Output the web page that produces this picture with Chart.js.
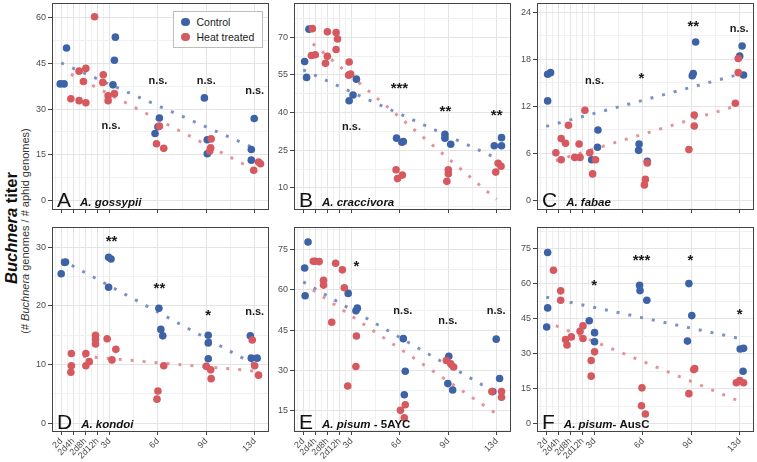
<!DOCTYPE html>
<html>
<head>
<meta charset="utf-8">
<title>Buchnera titer</title>
<script src="https://cdn.jsdelivr.net/npm/chart.js@4.4.1/dist/chart.umd.min.js"></script>
<style>
  html, body { margin: 0; padding: 0; background: #fff; overflow: hidden; }
  body { position: relative; width: 757px; height: 462px; font-family: "Liberation Sans", Arial, sans-serif; }
  .panel { position: absolute; }
  .panel canvas { display: block; }
  #ytitle, #ysub { position: absolute; white-space: nowrap; transform: translate(-50%, -50%) rotate(-90deg); }
  #ytitle { left: 11px; top: 228px; font-size: 16.5px; font-weight: bold; color: #111; }
  #ysub { left: 25px; top: 231px; font-size: 11px; color: #333; }
  #legend { position: absolute; left: 173px; top: 11px; width: 88px; height: 35px; border: 1px solid #bdbdbd; background: #fff; font-size: 10.5px; color: #1a1a1a; z-index: 5; white-space: nowrap; }
  .item { position: absolute; left: 7px; height: 14px; display: flex; align-items: center; }
  .dot { width: 8.5px; height: 8.5px; border-radius: 50%; margin-right: 7px; }
</style>
</head>
<body>
<div id="ytitle"><i>Buchnera</i> titer</div>
<div id="ysub">(# <i>Buchnera</i> genomes / # aphid genomes)</div>
<div id="legend">
  <div class="item" style="top:3px"><span class="dot" style="background:#3D63A6"></span>Control</div>
  <div class="item" style="top:18px"><span class="dot" style="background:#D5595F"></span>Heat treated</div>
</div>

<script>
// x axis: sampling times (2d .. 3d squeezed, then one unit per step)
const timePos = [0, 0.25, 0.5, 0.75, 1, 2, 3, 4];
const timeLabels = ["2d", "2d4h", "2d8h", "2d12h", "3d", "6d", "9d", "13d"];

// panel names
const letters = ["A", "B", "C", "D", "E", "F"];
const species = ["A. gossypii", "A. craccivora", "A. fabae", "A. kondoi", "A. pisum", "A. pisum"];
const strain = ["", "", "", "", " - 5AYC", "- AusC"];

// y axis ticks + limits for each panel
const yTicksA = [0, 15, 30, 45, 60];
const yTicksB = [10, 25, 40, 55, 70];
const yTicksC = [0, 6, 12, 18, 24];
const yTicksD = [0, 10, 20, 30];
const yTicksE = [15, 30, 45, 60, 75];
const yTicksF = [0, 15, 30, 45, 60, 75];
const yMin = [-3.2, 1.2, -1.2, -1.5, 6.9, -3.5];
const yMax = [65, 83.7, 25.2, 33.5, 83.6, 84.3];

// A. gossypii
const aCtrlX = [-0.02, 0.06, 0.11, 1.12, 1.10, 1.07, 2.03, 2.0, 1.94, 2.96, 3.02, 3.02, 3.99, 3.93, 3.93];
const aCtrlY = [38.3, 38.3, 50.1, 53.7, 46.1, 38.0, 27.1, 24.2, 22.0, 33.7, 19.9, 15.3, 26.9, 16.7, 13.2];
const aHeatX = [0.2, 0.37, 0.37, 0.46, 0.51, 0.51, 0.69, 0.87, 0.86, 0.97, 0.97, 1.1, 2.03, 1.97, 2.12, 3.1, 3.09, 3.07, 4.08, 3.98, 4.12];
const aHeatY = [33.4, 32.8, 42.5, 39.1, 43.4, 32.1, 60.4, 41.3, 38.8, 34.4, 32.8, 35.1, 24.4, 18.6, 17.1, 20.2, 17.3, 16.2, 12.6, 9.9, 12.0];
const aCtrlFit = [45.2, 17.1];
const aHeatFit = [41.5, 10.0];
const aSig = ["n.s.", "n.s.", "n.s.", "n.s."];
const aSigX = [1.03, 2.0, 3.0, 4.0];
const aSigY = [24.3, 39.4, 39.4, 35.9];

// A. craccivora
const bCtrlX = [0.03, 0.07, 0.12, 0.95, 1.03, 1.1, 1.93, 2.04, 2.07, 2.93, 2.93, 3.05, 3.95, 4.1, 4.1];
const bCtrlY = [60.3, 54.0, 73.2, 44.7, 47.0, 53.3, 29.8, 28.2, 28.5, 31.3, 29.8, 27.4, 26.8, 26.8, 30.0];
const bHeatX = [0.19, 0.17, 0.25, 0.5, 0.5, 0.46, 0.68, 0.71, 0.68, 0.95, 0.94, 0.98, 1.92, 1.95, 2.05, 3.0, 3.0, 2.97, 3.98, 4.03, 4.09];
const bHeatY = [73.4, 62.7, 63.0, 72.2, 62.4, 59.6, 71.9, 69.3, 65.1, 60.1, 54.9, 55.3, 17.2, 13.7, 15.1, 17.2, 15.6, 12.6, 16.3, 19.8, 18.6];
const bCtrlFit = [57.0, 21.8];
const bHeatFit = [67.4, 5.4];
const bSig = ["n.s.", "***", "**", "**"];
const bSigX = [1.0, 1.99, 2.94, 4.0];
const bSigY = [34.3, 51.0, 42.2, 40.5];

// A. fabae
const cCtrlX = [0.03, 0.09, 0.03, 1.07, 1.06, 0.94, 1.92, 1.91, 2.09, 3.09, 3.04, 3.02, 4.05, 4.0, 4.08];
const cCtrlY = [16.1, 16.3, 12.7, 9.0, 6.8, 5.2, 7.2, 6.4, 5.0, 20.2, 16.2, 15.9, 19.7, 18.4, 16.0];
const cHeatX = [0.2, 0.31, 0.31, 0.4, 0.46, 0.59, 0.68, 0.7, 0.8, 0.9, 0.96, 1.02, 2.09, 2.05, 2.03, 2.95, 3.06, 3.06, 3.91, 3.97, 3.97];
const cHeatY = [6.1, 5.2, 7.9, 7.3, 9.6, 5.5, 7.2, 5.5, 11.5, 6.1, 3.4, 5.2, 4.8, 2.7, 2.0, 6.5, 9.5, 10.9, 12.4, 16.3, 18.1];
const cCtrlFit = [9.45, 16.1];
const cHeatFit = [5.1, 12.2];
const cSig = ["n.s.", "*", "**", "n.s."];
const cSigX = [1.0, 1.97, 3.04, 3.99];
const cSigY = [15.3, 16.1, 22.7, 21.9];

// A. kondoi
const dCtrlX = [0.0, 0.07, 0.09, 0.98, 1.03, 0.98, 2.02, 2.06, 2.1, 3.04, 3.04, 3.04, 3.91, 3.93, 4.05];
const dCtrlY = [25.5, 27.4, 27.5, 28.3, 28.0, 23.2, 19.6, 16.0, 14.9, 15.0, 13.7, 11.0, 14.9, 11.1, 11.1];
const dHeatX = [0.21, 0.21, 0.2, 0.51, 0.51, 0.58, 0.71, 0.71, 0.71, 0.95, 1.05, 1.13, 2.0, 1.98, 2.12, 3.0, 3.09, 3.1, 3.95, 4.0, 4.08];
const dHeatY = [11.9, 9.8, 8.7, 11.9, 9.8, 10.5, 15.0, 14.3, 13.5, 14.4, 10.8, 12.6, 5.5, 4.1, 9.8, 9.7, 9.1, 7.6, 14.2, 9.8, 8.2];
const dCtrlFit = [27.9, 10.0];
const dHeatFit = [11.6, 8.9];
const dSig = ["**", "**", "*", "n.s."];
const dSigX = [1.04, 2.03, 3.04, 4.0];
const dSigY = [31.7, 23.7, 19.0, 19.0];

// A. pisum - 5AYC
const eCtrlX = [0.03, 0.04, 0.1, 0.93, 1.09, 1.12, 2.07, 2.11, 2.09, 3.01, 2.99, 3.09, 3.99, 4.06, 3.92];
const eCtrlY = [68.2, 57.8, 77.9, 58.7, 52.2, 53.2, 41.8, 29.6, 20.8, 35.2, 25.0, 22.6, 41.6, 26.9, 22.0];
const eHeatX = [0.21, 0.25, 0.33, 0.42, 0.42, 0.59, 0.67, 0.81, 0.85, 0.92, 1.1, 1.09, 2.01, 2.11, 2.09, 2.96, 3.05, 3.11, 3.9, 4.1, 4.1];
const eHeatY = [70.7, 70.7, 70.6, 63.6, 61.8, 47.9, 70.0, 67.5, 60.8, 24.1, 42.8, 31.4, 15.0, 17.1, 12.2, 33.6, 32.4, 31.2, 22.0, 22.0, 19.9];
const eCtrlFit = [63.0, 21.4];
const eHeatFit = [60.0, 13.6];
const eSig = ["*", "n.s.", "n.s.", "n.s."];
const eSigX = [1.1, 2.06, 2.99, 3.99];
const eSigY = [70.1, 52.0, 48.3, 52.0];

// A. pisum - AusC
const fCtrlX = [0.03, 0.03, 0.01, 0.89, 1.0, 1.0, 1.93, 1.94, 2.08, 2.95, 3.01, 2.92, 4.01, 4.08, 4.07];
const fCtrlY = [73.3, 49.6, 41.4, 44.1, 39.0, 35.1, 59.3, 57.0, 52.9, 60.0, 46.3, 35.4, 32.0, 32.3, 22.5];
const fHeatX = [0.15, 0.3, 0.3, 0.4, 0.43, 0.52, 0.7, 0.76, 0.76, 0.93, 0.93, 1.0, 1.98, 1.97, 2.05, 3.07, 3.05, 2.95, 3.93, 4.0, 4.08];
const fHeatY = [65.7, 56.9, 52.9, 36.1, 33.7, 37.2, 39.6, 41.9, 36.5, 27.1, 20.4, 30.8, 15.4, 7.7, 4.2, 23.6, 23.2, 12.9, 17.6, 18.5, 17.6];
const fCtrlFit = [54.2, 36.5];
const fHeatFit = [42.0, 9.6];
const fSig = ["*", "***", "*", "*"];
const fSigX = [0.99, 1.97, 2.98, 4.0];
const fSigY = [60.8, 71.6, 71.6, 48.5];

// x span of the fitted lines
const ctrlFitX = [0, 4];
const heatFitX = [0.2, 4];

// layout
const COL_LEFT = [52, 294, 537];
const ROW_TOP = [0, 224];
const PLOT_W = 219;
const PLOT_H = [210, 208];
const AXIS_W = 40;
const X_AXIS_H = [6, 30];
const X_MIN = -0.19, X_MAX = 4.3;

const BLUE = "#3D63A6";
const RED = "#D5595F";
const BLUE_LINE = "#7B92C4";
const RED_LINE = "#E3949A";
const FONT = '"Liberation Sans", Arial, sans-serif';

const panels = [
  [aCtrlX, aCtrlY, aHeatX, aHeatY, aCtrlFit, aHeatFit, aSig, aSigX, aSigY, yTicksA],
  [bCtrlX, bCtrlY, bHeatX, bHeatY, bCtrlFit, bHeatFit, bSig, bSigX, bSigY, yTicksB],
  [cCtrlX, cCtrlY, cHeatX, cHeatY, cCtrlFit, cHeatFit, cSig, cSigX, cSigY, yTicksC],
  [dCtrlX, dCtrlY, dHeatX, dHeatY, dCtrlFit, dHeatFit, dSig, dSigX, dSigY, yTicksD],
  [eCtrlX, eCtrlY, eHeatX, eHeatY, eCtrlFit, eHeatFit, eSig, eSigX, eSigY, yTicksE],
  [fCtrlX, fCtrlY, fHeatX, fHeatY, fCtrlFit, fHeatFit, fSig, fSigX, fSigY, yTicksF],
];

function near(list, v) { return list.some(m => Math.abs(m - v) < 1e-6); }

// minor grid lines sit half way between the major ones (ggplot style)
function withMinor(major, lo, hi) {
  const out = major.slice();
  for (let i = 0; i < major.length - 1; i++) out.push((major[i] + major[i + 1]) / 2);
  const step0 = major[1] - major[0], stepN = major[major.length - 1] - major[major.length - 2];
  out.push(major[0] - step0 / 2, major[major.length - 1] + stepN / 2);
  return out.filter(v => v >= lo && v <= hi).sort((a, b) => a - b);
}

function toPts(xs, ys) { return xs.map((x, i) => ({ x: x, y: ys[i] })); }

// border, significance marks and the panel label
const decor = {
  id: "decor",
  afterDatasetsDraw(chart) {
    const { ctx, chartArea: a } = chart;
    ctx.save();
    ctx.strokeStyle = "#444";
    ctx.lineWidth = 1;
    ctx.strokeRect(Math.round(a.left) + 0.5, Math.round(a.top) + 0.5, Math.round(a.width) - 1, Math.round(a.height) - 1);
    ctx.restore();
  },
  afterDraw(chart, args, opts) {
    const { ctx, chartArea: a, scales } = chart;
    ctx.save();
    ctx.fillStyle = "#1a1a1a";
    ctx.textAlign = "center";
    ctx.textBaseline = "alphabetic";
    opts.sig.forEach((s, i) => {
      const px = scales.x.getPixelForValue(opts.sigX[i]);
      const py = scales.y.getPixelForValue(opts.sigY[i]);
      if (s[0] === "*") {
        ctx.font = "bold 15px " + FONT;
        ctx.fillText(s, px, py + 8.5);
      } else {
        ctx.font = "bold 11px " + FONT;
        ctx.fillText(s, px, py + 3);
      }
    });
    // panel letter + species
    ctx.textAlign = "left";
    ctx.fillStyle = "#111";
    ctx.font = "21px " + FONT;
    const lx = a.left + 5, by = a.bottom - 3;
    ctx.fillText(opts.letter, lx, by);
    let sx = lx + ctx.measureText(opts.letter).width + 9;
    ctx.font = "italic bold 11.5px " + FONT;
    ctx.fillText(opts.species, sx, by - 1);
    if (opts.strain) {
      sx += ctx.measureText(opts.species).width;
      ctx.font = "bold 11.5px " + FONT;
      ctx.fillText(opts.strain, sx, by - 1);
    }
    ctx.restore();
  }
};

panels.forEach((p, i) => {
  const [ctrlX, ctrlY, heatX, heatY, ctrlFit, heatFit, sig, sigX, sigY, yMajor] = p;
  const col = i % 3, row = Math.floor(i / 3);
  const w = AXIS_W + PLOT_W + 2;
  const h = 1 + PLOT_H[row] + X_AXIS_H[row];

  const box = document.createElement("div");
  box.className = "panel";
  box.style.left = (COL_LEFT[col] - AXIS_W) + "px";
  box.style.top = (ROW_TOP[row] - 1) + "px";
  const canvas = document.createElement("canvas");
  canvas.width = w;
  canvas.height = h;
  box.appendChild(canvas);
  document.body.appendChild(box);

  const xGrid = withMinor(timePos, X_MIN, X_MAX);
  const yGrid = withMinor(yMajor, yMin[i], yMax[i]);

  new Chart(canvas, {
    type: "scatter",
    plugins: [decor],
    data: {
      datasets: [
        { data: toPts(heatX, heatY), backgroundColor: RED, borderWidth: 0, pointRadius: 3.8, pointHoverRadius: 3.8 },
        { data: toPts(ctrlX, ctrlY), backgroundColor: BLUE, borderWidth: 0, pointRadius: 3.8, pointHoverRadius: 3.8 },
        { data: toPts(heatFitX, heatFit), showLine: true, borderColor: RED_LINE, borderWidth: 3, borderDash: [3, 9], pointRadius: 0 },
        { data: toPts(ctrlFitX, ctrlFit), showLine: true, borderColor: BLUE_LINE, borderWidth: 3, borderDash: [3, 9], pointRadius: 0 },
      ],
    },
    options: {
      responsive: false,
      animation: false,
      devicePixelRatio: 1,
      layout: { padding: { top: 1, right: 2, left: 0, bottom: 0 } },
      plugins: {
        legend: { display: false },
        tooltip: { enabled: false },
        decor: {
          letter: letters[i], species: species[i], strain: strain[i],
          sig: sig, sigX: sigX, sigY: sigY,
        },
      },
      scales: {
        x: {
          type: "linear",
          min: X_MIN,
          max: X_MAX,
          afterBuildTicks: s => { s.ticks = xGrid.map(v => ({ value: v })); },
          afterFit: s => { s.height = X_AXIS_H[row]; s.paddingLeft = 0; s.paddingRight = 0; },
          border: { display: false },
          grid: {
            color: c => near(timePos, c.tick.value) ? "#E4E4E4" : "#F0F0F0",
            lineWidth: 1,
            tickColor: c => near(timePos, c.tick.value) ? "#444" : "rgba(0,0,0,0)",
            tickLength: 3,
          },
          ticks: {
            display: row === 1,
            autoSkip: false,
            minRotation: 45,
            maxRotation: 45,
            padding: 1,
            color: "#4D4D4D",
            font: { family: FONT, size: 9 },
            callback: v => { const k = timePos.findIndex(t => Math.abs(t - v) < 1e-6); return k < 0 ? "" : timeLabels[k]; },
          },
        },
        y: {
          min: yMin[i],
          max: yMax[i],
          afterBuildTicks: s => { s.ticks = yGrid.map(v => ({ value: v })); },
          afterFit: s => { s.width = AXIS_W; s.paddingTop = 0; s.paddingBottom = 0; },
          border: { display: false },
          grid: {
            color: c => near(yMajor, c.tick.value) ? "#E4E4E4" : "#F0F0F0",
            lineWidth: 1,
            tickColor: c => near(yMajor, c.tick.value) ? "#444" : "rgba(0,0,0,0)",
            tickLength: 4,
          },
          ticks: {
            autoSkip: false,
            padding: 2,
            color: "#4D4D4D",
            font: { family: FONT, size: 9 },
            callback: v => near(yMajor, v) ? String(v) : "",
          },
        },
      },
    },
  });
});
</script>
</body>
</html>
